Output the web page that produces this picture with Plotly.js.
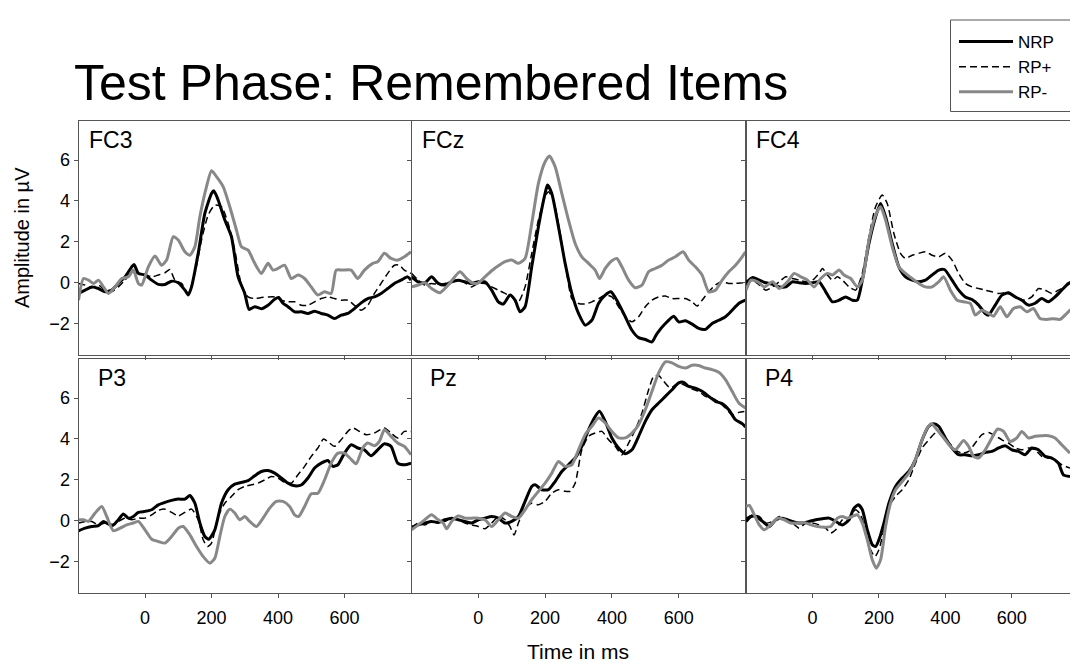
<!DOCTYPE html>
<html>
<head>
<meta charset="utf-8">
<script src="https://cdn.plot.ly/plotly-3.0.1.min.js"></script>
<style>html,body{margin:0;padding:0;background:#fff;}#chart{width:1070px;height:666px;}</style>
</head>
<body>
<div id="chart"></div>
<script>
// ---------------- DATA (time in ms, amplitude in µV) ----------------
const seriesNames = ["NRP", "RP+", "RP-"];
const panelNames = ["FC3", "FCz", "FC4", "P3", "Pz", "P4"];
const xTickVals = [0, 200, 400, 600];
const yTickVals = [-2, 0, 2, 4, 6];

const FC3_NRP = [[-200,-0.52],[-180,-0.36],[-160,-0.2],[-140,-0.28],[-120,-0.44],[-100,-0.36],[-80,-0.03],[-60,0.29],[-40,0.78],[-33,0.9],[-20,0.46],[0,0.38],[20,0.13],[40,-0.08],[60,-0.08],[80,0.08],[100,0],[120,-0.36],[130,-0.6],[140,-0.2],[160,1.44],[180,3.39],[200,4.37],[207,4.5],[220,4.05],[240,3.07],[260,2.25],[280,0.29],[300,-0.52],[313,-1.3],[330,-1.17],[350,-1.27],[370,-1.1],[390,-0.8],[402,-0.72],[415,-1.0],[430,-1.17],[450,-1.42],[470,-1.42],[490,-1.5],[510,-1.39],[530,-1.5],[550,-1.58],[570,-1.75],[590,-1.58],[610,-1.5],[630,-1.26],[650,-0.98],[670,-0.77],[690,-0.69],[710,-0.52],[730,-0.28],[750,-0.03],[770,0.13],[790,0.29],[800,0.13]];
const FC3_RPP = [[-200,-0.03],[-180,-0.11],[-160,-0.24],[-140,-0.11],[-120,-0.36],[-100,-0.44],[-80,-0.2],[-60,0.13],[-40,0.54],[-20,0.46],[0,0.42],[20,0.29],[40,0.38],[60,0.49],[75,0.65],[90,0.13],[110,-0.03],[130,-0.52],[150,0.46],[170,2.09],[190,3.31],[210,3.8],[230,3.72],[250,2.9],[270,1.6],[290,-0.11],[310,-0.69],[330,-0.77],[350,-0.72],[370,-0.69],[390,-0.69],[410,-0.85],[430,-0.93],[450,-0.93],[470,-1.1],[490,-1.1],[510,-0.93],[530,-0.77],[550,-0.69],[570,-0.77],[590,-0.85],[610,-0.85],[630,-1.1],[650,-1.34],[670,-1.1],[690,-0.52],[710,-0.03],[730,0.46],[750,0.86],[765,0.86],[780,0.62],[800,0.46]];
const FC3_RPM = [[-200,-0.85],[-185,0.21],[-170,0.13],[-155,-0.03],[-140,0.13],[-125,-0.2],[-110,-0.52],[-90,-0.2],[-70,0.21],[-50,0.29],[-35,0.62],[-20,-0.03],[-10,-0.11],[10,0.78],[30,1.31],[50,0.86],[65,1.11],[85,2.25],[100,2.09],[120,1.52],[135,1.35],[150,1.76],[165,3.23],[185,4.7],[200,5.48],[215,5.19],[235,4.7],[255,3.72],[275,2.58],[290,1.76],[310,1.6],[330,0.95],[350,0.46],[370,0.95],[385,0.62],[400,0.7],[420,0.86],[440,0.21],[460,0.38],[480,0.21],[500,-0.2],[520,-0.6],[540,-0.44],[560,-0.52],[575,0.62],[595,0.62],[620,0.62],[640,0.21],[660,0.62],[685,0.95],[700,1.03],[720,1.44],[740,1.19],[760,1.11],[780,1.27],[800,1.52]];

const FCz_NRP = [[-200,0.29],[-180,0.05],[-160,0],[-140,0.29],[-120,-0.03],[-100,-0.11],[-80,0.05],[-60,0.13],[-40,0.05],[-20,-0.03],[0,0.05],[20,0.05],[40,-0.36],[60,-0.93],[75,-1.04],[95,-0.6],[110,-0.85],[125,-1.42],[140,-1.17],[160,0.78],[180,2.74],[200,4.37],[207,4.78],[220,4.37],[240,2.74],[260,0.95],[280,-0.52],[300,-1.5],[320,-2.07],[340,-1.83],[360,-1.01],[380,-0.6],[397,-0.44],[420,-1.01],[440,-1.66],[460,-2.32],[480,-2.68],[500,-2.77],[520,-2.89],[535,-2.48],[560,-1.99],[585,-1.63],[600,-1.91],[620,-1.86],[640,-2.02],[660,-2.23],[680,-2.28],[700,-1.99],[720,-1.83],[740,-1.66],[760,-1.34],[780,-1.01],[800,-0.85]];
const FCz_RPP = [[-200,0.46],[-180,0.13],[-160,-0.11],[-140,-0.03],[-120,-0.08],[-100,-0.03],[-80,0.05],[-60,0.13],[-40,0],[-20,-0.2],[0,-0.03],[20,-0.03],[40,-0.2],[60,-0.36],[80,-0.52],[100,-0.69],[120,-0.93],[140,-0.2],[160,1.44],[180,3.07],[200,4.21],[210,4.45],[225,4.05],[245,2.41],[265,0.46],[280,-0.77],[300,-1.01],[320,-1.04],[340,-0.93],[360,-0.77],[380,-0.6],[400,-0.69],[420,-1.17],[440,-1.66],[460,-1.91],[480,-1.66],[500,-1.17],[520,-0.85],[540,-0.69],[560,-0.65],[580,-0.77],[600,-0.77],[620,-0.77],[640,-0.93],[655,-1.14],[670,-0.85],[690,-0.44],[710,-0.11],[730,0.05],[750,-0.03],[770,-0.03],[790,0],[800,-0.03]];
const FCz_RPM = [[-200,-0.2],[-180,-0.11],[-160,0],[-140,-0.28],[-115,-0.49],[-90,-0.11],[-55,0.54],[-35,0.21],[-15,-0.03],[0,0],[20,0.29],[40,0.59],[60,0.83],[80,1.03],[100,1.11],[120,0.95],[140,1.19],[160,2.9],[180,4.86],[200,5.92],[213,6.2],[230,5.68],[250,4.37],[270,3.07],[290,1.92],[310,1.27],[330,0.95],[350,0.62],[363,0.21],[380,0.7],[400,1.08],[415,1.19],[430,0.78],[450,0.13],[470,-0.24],[490,-0.11],[510,0.54],[530,0.7],[550,0.86],[570,1.11],[590,1.27],[613,1.52],[630,1.11],[650,0.78],[670,0.38],[690,-0.44],[710,-0.36],[730,0.13],[750,0.54],[770,0.86],[790,1.27],[800,1.52]];

const FC4_NRP = [[-200,0],[-180,0.26],[-160,0.13],[-140,0],[-120,-0.07],[-100,-0.2],[-80,-0.2],[-60,0.05],[-40,0],[-20,-0.03],[0,0],[20,0.05],[40,-0.44],[60,-0.93],[80,-0.85],[100,-0.69],[120,-0.85],[135,-0.85],[150,0.13],[170,1.92],[190,3.23],[205,3.88],[220,3.23],[240,1.92],[260,0.78],[280,0.29],[300,0.13],[320,0.05],[340,0.13],[360,0.38],[380,0.62],[397,0.65],[420,0.13],[440,-0.36],[460,-0.69],[480,-0.82],[500,-1.09],[520,-1.5],[530,-1.58],[550,-1.09],[570,-0.6],[590,-0.49],[610,-0.69],[630,-0.85],[650,-1.09],[670,-1.0],[690,-0.77],[710,-0.93],[730,-0.69],[750,-0.36],[770,-0.03],[790,0.1]];
const FC4_RPP = [[-200,-0.11],[-180,0.13],[-160,-0.11],[-140,-0.36],[-120,-0.2],[-100,0.05],[-80,0.29],[-60,0.21],[-40,0.13],[-20,0.05],[0,0.13],[20,0.46],[30,0.7],[45,0.38],[60,0.13],[75,0.29],[90,0.13],[110,-0.2],[130,-0.36],[150,0.46],[170,2.25],[190,3.72],[210,4.29],[225,3.88],[245,2.41],[265,1.44],[280,1.19],[300,1.35],[320,1.44],[340,1.52],[360,1.35],[380,1.27],[400,1.44],[420,1.11],[440,0.46],[460,-0.03],[480,-0.2],[500,-0.28],[520,-0.36],[540,-0.44],[560,-0.52],[580,-0.49],[600,-0.6],[620,-0.77],[640,-0.85],[660,-0.69],[680,-0.28],[700,-0.36],[720,-0.52],[740,-0.36],[760,-0.2],[775,-0.03],[790,0.05]];
const FC4_RPM = [[-200,-0.36],[-185,0.13],[-165,0.05],[-145,-0.2],[-120,0.05],[-100,-0.28],[-75,0.05],[-55,0.46],[-35,0.29],[-15,0.13],[5,-0.2],[25,0.21],[45,0.46],[60,0.38],[80,0.62],[95,0.38],[115,0.21],[135,-0.2],[150,0.13],[170,2.09],[190,3.31],[205,3.72],[220,3.07],[240,1.76],[260,0.78],[280,0.46],[300,0.21],[320,-0.03],[340,-0.2],[360,-0.2],[380,0.05],[395,0.29],[415,-0.36],[435,-0.85],[455,-0.93],[475,-1.01],[490,-1.58],[510,-1.34],[530,-1.5],[545,-1.63],[565,-1.17],[585,-1.66],[605,-1.26],[625,-1.17],[645,-1.42],[665,-1.26],[685,-1.75],[705,-1.79],[725,-1.76],[745,-1.79],[765,-1.5],[775,-1.34],[790,-1.2]];

const P3_NRP = [[-200,-0.49],[-180,-0.36],[-160,-0.28],[-140,-0.24],[-125,-0.03],[-110,-0.16],[-95,-0.2],[-80,0.05],[-65,0.33],[-50,0.13],[-35,0.21],[-20,0.41],[0,0.46],[20,0.54],[40,0.78],[60,0.9],[80,1.0],[100,1.06],[120,1.06],[135,1.24],[150,0.86],[165,-0.11],[180,-0.77],[192,-0.9],[210,-0.44],[230,0.86],[250,1.52],[270,1.79],[290,1.88],[310,1.96],[330,2.2],[350,2.41],[370,2.46],[390,2.33],[410,2.09],[430,1.84],[450,1.71],[470,1.75],[490,2.09],[510,2.58],[530,2.82],[550,2.95],[565,2.66],[580,2.74],[600,3.31],[620,3.72],[640,3.56],[660,3.47],[680,3.18],[700,3.47],[720,3.77],[740,3.64],[760,2.82],[780,2.74],[800,2.82]];
const P3_RPP = [[-200,-0.11],[-180,-0.03],[-160,-0.03],[-140,-0.2],[-120,-0.11],[-100,-0.28],[-80,-0.03],[-60,0.13],[-40,0.05],[-20,0.13],[0,0.13],[20,0.29],[40,0.51],[60,0.57],[80,0.41],[100,0.24],[120,0.41],[140,0.57],[160,0.05],[175,-0.93],[188,-1.26],[200,-1.09],[220,0.21],[240,0.86],[260,1.19],[280,1.52],[300,1.68],[320,1.76],[340,1.84],[360,2.0],[380,2.17],[400,2.09],[420,1.88],[440,1.84],[460,2.25],[480,2.66],[500,3.15],[520,3.56],[537,4.0],[555,3.8],[570,3.64],[590,3.96],[610,4.37],[625,4.54],[645,4.37],[665,4.21],[690,4.29],[720,4.54],[740,4.29],[760,4.05],[780,4.37],[800,4.37]];
const P3_RPM = [[-200,0.05],[-185,0.05],[-170,-0.03],[-150,0.38],[-130,0.7],[-115,0.21],[-95,-0.49],[-75,-0.36],[-55,-0.2],[-35,-0.11],[-20,-0.03],[0,-0.44],[20,-0.9],[40,-1.01],[60,-1.09],[80,-0.77],[100,-0.36],[115,-0.28],[135,-0.69],[155,-1.26],[175,-1.75],[195,-2.07],[210,-1.83],[225,-0.77],[240,0.21],[255,0.57],[270,0.38],[285,0.05],[300,0.21],[315,-0.03],[335,-0.28],[355,0.13],[375,0.62],[395,0.95],[415,0.95],[435,0.7],[450,0.29],[462,0.21],[480,0.7],[500,1.32],[520,1.35],[540,2.0],[560,2.82],[580,3.31],[600,3.31],[620,3.0],[635,2.79],[655,3.56],[670,3.8],[690,3.67],[705,3.88],[720,4.45],[740,4.13],[760,3.8],[780,3.64],[800,3.23]];

const Pz_NRP = [[-200,-0.31],[-180,-0.2],[-160,-0.11],[-140,-0.03],[-120,-0.08],[-100,0.05],[-80,0.13],[-60,0.05],[-40,-0.03],[-20,-0.11],[0,0.05],[20,0.13],[40,0.21],[60,0.13],[80,-0.11],[100,-0.03],[120,0.21],[140,0.95],[160,1.68],[170,1.76],[190,1.52],[210,1.52],[230,1.92],[250,2.41],[270,2.74],[290,3.07],[310,3.64],[330,4.45],[350,5.1],[363,5.35],[380,4.86],[400,4.05],[420,3.56],[440,3.28],[460,3.47],[480,4.13],[500,4.86],[520,5.43],[540,5.76],[560,6.08],[580,6.41],[600,6.74],[615,6.77],[630,6.57],[650,6.49],[670,6.33],[690,6.08],[710,5.84],[730,5.73],[750,5.43],[770,4.94],[790,4.75],[800,4.58]];
const Pz_RPP = [[-200,-0.36],[-180,-0.11],[-160,-0.2],[-140,-0.03],[-120,-0.11],[-100,-0.03],[-80,0.13],[-60,0.05],[-40,-0.11],[-20,-0.2],[0,-0.28],[20,-0.39],[40,-0.11],[60,0.21],[80,0.05],[95,-0.28],[107,-0.69],[120,-0.11],[140,0.62],[160,0.86],[180,0.78],[200,0.95],[220,1.35],[240,1.52],[260,1.44],[275,1.44],[290,1.84],[310,3.47],[330,4.13],[350,4.29],[370,4.37],[390,3.96],[410,3.64],[430,3.23],[450,3.8],[470,4.45],[490,5.27],[510,6.41],[525,7.06],[540,7.1],[555,6.82],[575,6.49],[600,6.74],[620,6.61],[640,6.44],[660,6.33],[680,6.08],[700,6.0],[720,5.81],[740,5.51],[760,5.19],[780,5.3],[800,5.35]];
const Pz_RPM = [[-200,-0.44],[-180,-0.2],[-160,0.05],[-140,0.29],[-120,0.05],[-105,-0.11],[-95,-0.39],[-80,-0.03],[-60,0.24],[-40,0.13],[-20,0.13],[0,0.13],[20,0.05],[40,-0.28],[60,0.05],[80,0.38],[100,0.21],[120,0.13],[140,0.54],[160,1.03],[180,1.44],[200,1.84],[220,2.33],[240,2.9],[260,2.66],[280,2.74],[300,3.47],[320,4.21],[340,4.62],[360,5.02],[380,4.78],[400,4.37],[420,4.05],[440,4.05],[460,4.29],[480,4.7],[500,5.43],[520,6.33],[540,7.23],[560,7.77],[580,7.72],[600,7.55],[620,7.47],[640,7.6],[660,7.59],[680,7.47],[700,7.39],[720,7.26],[740,6.9],[760,6.33],[780,5.76],[800,5.51]];

const P4_NRP = [[-200,-0.03],[-185,0.21],[-170,0.21],[-150,-0.03],[-130,-0.28],[-110,0.05],[-90,0.13],[-70,0.02],[-50,-0.08],[-30,-0.11],[-10,-0.03],[10,0.05],[30,0.1],[50,0.13],[70,-0.03],[90,-0.2],[110,0.05],[125,0.62],[138,0.78],[150,0.54],[165,-0.44],[180,-1.17],[190,-1.26],[200,-0.93],[215,-0.11],[230,0.86],[250,1.68],[270,2.09],[290,2.41],[310,2.99],[330,3.96],[350,4.62],[365,4.75],[380,4.62],[400,4.05],[420,3.56],[440,3.23],[460,3.23],[480,3.18],[500,3.23],[520,3.34],[540,3.39],[560,3.56],[580,3.67],[600,3.47],[620,3.39],[640,3.23],[660,3.56],[680,3.47],[700,3.15],[720,3.07],[740,2.82],[755,2.25],[775,2.17]];
const P4_RPP = [[-200,0.13],[-180,0.29],[-160,0.21],[-140,-0.11],[-120,-0.03],[-100,0.21],[-80,0.02],[-60,-0.11],[-40,-0.36],[-20,-0.11],[0,-0.11],[20,-0.2],[40,-0.36],[55,-0.6],[70,-0.44],[90,0.05],[110,0.13],[130,0.54],[145,0.29],[160,-0.52],[175,-1.42],[188,-1.75],[200,-1.42],[215,-0.44],[230,0.7],[250,1.19],[270,1.52],[290,2.0],[310,2.82],[330,3.56],[350,3.96],[370,4.29],[390,4.21],[410,3.83],[430,3.47],[450,3.31],[470,3.39],[490,3.8],[510,4.21],[530,4.32],[550,4.16],[570,3.96],[590,3.8],[610,3.56],[630,3.47],[650,3.56],[670,3.47],[690,3.15],[710,3.07],[730,2.99],[750,2.74],[775,2.58]];
const P4_RPM = [[-200,0.7],[-190,0.75],[-175,0.29],[-160,-0.2],[-145,-0.44],[-125,-0.2],[-105,0.13],[-85,0.05],[-65,-0.11],[-45,-0.11],[-25,-0.08],[-5,-0.2],[15,-0.28],[35,-0.31],[55,-0.28],[75,0.13],[90,0.21],[105,0.13],[120,0.21],[135,0.29],[150,-0.11],[165,-0.93],[180,-1.91],[192,-2.32],[205,-1.91],[220,-0.28],[235,0.86],[250,1.52],[270,1.92],[290,2.33],[310,2.99],[330,3.96],[345,4.53],[358,4.75],[375,4.45],[395,4.05],[415,3.64],[430,3.47],[455,3.93],[470,3.64],[485,3.15],[500,3.07],[520,3.47],[540,4.05],[557,4.49],[575,4.37],[595,3.88],[615,4.05],[630,4.37],[650,4.05],[670,4.13],[690,4.16],[710,4.16],[730,4.05],[750,3.72],[775,3.31]];

const panelData = [
  [FC3_NRP, FC3_RPP, FC3_RPM],
  [FCz_NRP, FCz_RPP, FCz_RPM],
  [FC4_NRP, FC4_RPP, FC4_RPM],
  [P3_NRP, P3_RPP, P3_RPM],
  [Pz_NRP, Pz_RPP, Pz_RPM],
  [P4_NRP, P4_RPP, P4_RPM]
];

// ---------------- LAYOUT / STYLE ----------------
const W = 1070, H = 666;
const FONT = "Liberation Sans, Arial, Helvetica, sans-serif";
const px = v => v / W;
const py = v => 1 - v / H;
const colPx = [[78.5, 411], [411.5, 745.5], [746, 1070]];
const rowPx = [[121, 355], [359, 593]];
const colRange = [[-200, 800], [-200, 800], [-200, 775]];
const yRange = [-3.53, 7.91];

const lineStyles = [
  {color: "#000000", width: 3, dash: "solid"},
  {color: "#000000", width: 1.5, dash: "7px,4px"},
  {color: "#888888", width: 3, dash: "solid"}
];

const traces = [];
const layout = {
  width: W, height: H,
  margin: {l: 0, r: 0, t: 0, b: 0},
  paper_bgcolor: "#ffffff",
  plot_bgcolor: "rgba(0,0,0,0)",
  font: {family: FONT, color: "#000", size: 18},
  showlegend: true,
  title: {
    text: "Test Phase: Remembered Items",
    font: {family: FONT, size: 50, color: "#000"},
    x: px(74), xanchor: "left", xref: "paper",
    y: py(82), yanchor: "middle", yref: "container"
  },
  legend: {
    x: px(954), y: py(24), xanchor: "left", yanchor: "top",
    bgcolor: "rgba(0,0,0,0)", borderwidth: 0,
    font: {family: FONT, size: 17, color: "#000"},
    itemwidth: 54, tracegroupgap: 0,
    traceorder: "normal"
  },
  shapes: [{
    type: "rect", xref: "paper", yref: "paper",
    x0: px(950.5), x1: px(1100), y0: py(111.5), y1: py(20),
    line: {color: "#555555", width: 1}, fillcolor: "rgba(0,0,0,0)", layer: "below"
  }],
  annotations: [],
  hovermode: false
};

for (let p = 0; p < 6; p++) {
  const row = Math.floor(p / 3), col = p % 3;
  const idx = p + 1;
  const xKey = "xaxis" + (idx === 1 ? "" : idx);
  const yKey = "yaxis" + (idx === 1 ? "" : idx);
  const xRef = "x" + (idx === 1 ? "" : idx);
  const yRef = "y" + (idx === 1 ? "" : idx);
  layout[xKey] = {
    domain: [px(colPx[col][0]), px(colPx[col][1])],
    range: colRange[col],
    anchor: yRef,
    showline: true, linecolor: "#555555", linewidth: 1, mirror: true,
    ticks: "outside", ticklen: 4, tickcolor: "#555555", tickwidth: 1,
    tickvals: xTickVals,
    showticklabels: row === 1,
    ticklabelstandoff: 4,
    tickfont: {family: FONT, size: 18, color: "#000"},
    showgrid: false, zeroline: false, fixedrange: true
  };
  layout[yKey] = {
    domain: [py(rowPx[row][1]), py(rowPx[row][0])],
    range: yRange,
    anchor: xRef,
    showline: true, linecolor: "#555555", linewidth: 1, mirror: true,
    ticks: "outside", ticklen: 4, tickcolor: "#555555", tickwidth: 1,
    tickvals: yTickVals,
    showticklabels: col === 0,
    tickfont: {family: FONT, size: 18, color: "#000"},
    showgrid: false, zeroline: false, fixedrange: true
  };
  for (let s = 0; s < 3; s++) {
    const d = panelData[p][s];
    traces.push({
      type: "scatter", mode: "lines",
      x: d.map(q => q[0]), y: d.map(q => q[1]),
      xaxis: xRef, yaxis: yRef,
      name: seriesNames[s],
      legendgroup: seriesNames[s],
      showlegend: p === 0,
      line: {color: lineStyles[s].color, width: lineStyles[s].width, dash: lineStyles[s].dash, shape: "spline", smoothing: 0.6},
      hoverinfo: "skip", cliponaxis: true
    });
  }
  // panel label
  const lblOffset = row === 0 ? 8 : 17;
  layout.annotations.push({
    text: panelNames[p], xref: "paper", yref: "paper",
    x: px(colPx[col][0] + lblOffset), y: py(row === 0 ? 140 : 378),
    xanchor: "left", yanchor: "middle", showarrow: false,
    font: {family: FONT, size: 23, color: "#000"}
  });
}

// axis titles
layout.annotations.push({
  text: "Amplitude in µV", xref: "paper", yref: "paper",
  x: px(22), y: py(238), xanchor: "center", yanchor: "middle",
  textangle: -90, showarrow: false,
  font: {family: FONT, size: 20, color: "#000"}
});
layout.annotations.push({
  text: "Time in ms", xref: "paper", yref: "paper",
  x: px(578), y: py(651), xanchor: "center", yanchor: "middle",
  showarrow: false,
  font: {family: FONT, size: 21, color: "#000"}
});

Plotly.newPlot("chart", traces, layout, {displayModeBar: false, staticPlot: true});
</script>
</body>
</html>
